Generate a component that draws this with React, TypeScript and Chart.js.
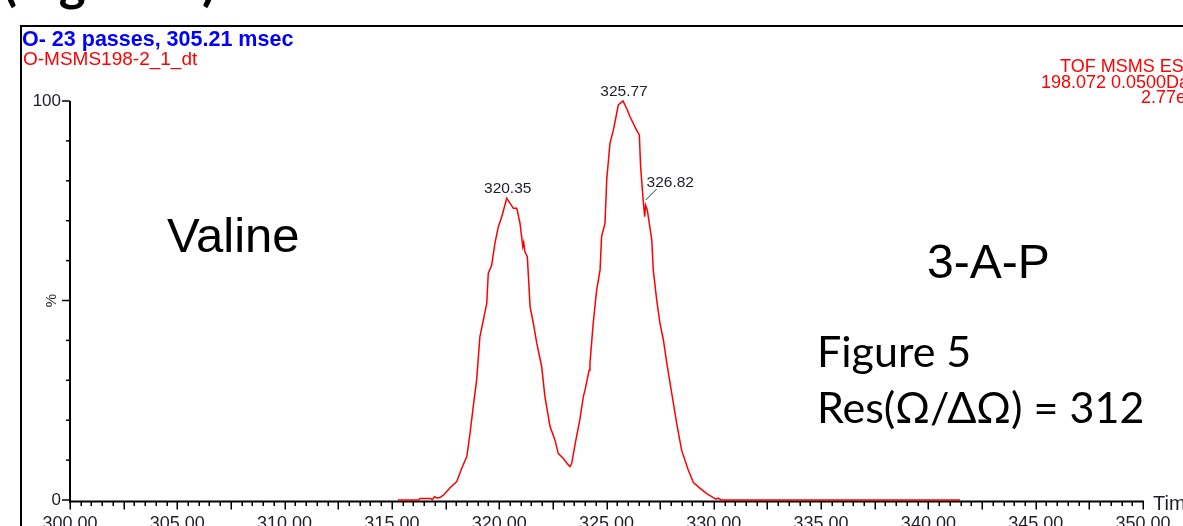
import React, { useEffect, useRef } from "react";
import { Chart, registerables } from "chart.js";

Chart.register(...registerables);

// ---- data ----
const driftTimes = [
  315.28, 316.25, 316.31, 316.8, 316.88, 316.98, 317.1, 317.24, 317.4, 317.7,
  318.02, 318.25, 318.49, 318.64, 318.79, 318.95, 319.1, 319.26, 319.42, 319.49,
  319.65, 319.8, 319.96, 320.12, 320.35, 320.5, 320.66, 320.82, 320.97, 321.1,
  321.14, 321.2, 321.31, 321.44, 321.59, 321.75, 321.98, 322.13, 322.37, 322.6,
  322.75, 322.99, 323.22, 323.3, 323.38, 323.53, 323.77, 323.92, 324.0, 324.19,
  324.23, 324.38, 324.54, 324.7, 324.77, 324.93, 325.01, 325.16, 325.32, 325.55,
  325.77, 325.95, 326.09, 326.4, 326.53, 326.59, 326.72, 326.78, 326.82, 326.9,
  327.11, 327.18, 327.34, 327.49, 327.65, 327.81, 328.04, 328.27, 328.5, 328.81,
  329.05, 329.36, 329.67, 329.98, 330.1, 330.2, 330.35, 341.47,
];
const intensities = [
  0, 0, 0.4, 0.4, 0.1, 0.8, 0.5, 0.6, 1.2, 3.0,
  4.6, 7.9, 10.9, 16.7, 23.4, 30.1, 40.9, 45.1, 49.3, 56.8,
  58.9, 64.3, 68.5, 71.0, 75.6, 74.4, 73.1, 73.1, 69.3, 63.5,
  64.5, 62.2, 61.0, 48.4, 44.3, 39.3, 33.4, 25.9, 18.4, 15.0,
  11.7, 10.4, 8.8, 8.4, 9.2, 13.8, 20.5, 25.9, 27.6, 32.5,
  34.3, 44.3, 52.6, 57.6, 66.0, 69.3, 80.2, 89.4, 92.7, 99.0,
  100, 98.0, 96.1, 92.7, 91.5, 83.5, 74.4, 71.0, 73.9, 72.7,
  65.2, 57.6, 50.1, 44.3, 40.1, 34.3, 26.7, 19.2, 12.5, 7.5,
  4.4, 2.9, 1.6, 0.6, 0.2, 0.5, 0.0, 0,
];

const peakTimes = [320.35, 325.77, 326.82];
const peakHeights = [75.6, 100, 73.9];
const peakLabels = ["320.35", "325.77", "326.82"];

const xTickValues = [300, 305, 310, 315, 320, 325, 330, 335, 340, 345, 350];
const xMinorStep = 0.5;
const yTickValues = [0, 10, 20, 30, 40, 50, 60, 70, 80, 90, 100];
const yLabelValues = [0, 100];

const headerTitle = "O- 23 passes, 305.21 msec";
const headerFile = "O-MSMS198-2_1_dt";
const headerRight = ["TOF MSMS ES+", "198.072 0.0500Da", "2.77e3"];
const xAxisName = "Time";
const pageHeading = "(Figure 5)";
const noteLeft = "Valine";
const noteRight = "3-A-P";
const noteFigure = "Figure 5";
const noteRes = "Res(Ω/ΔΩ) = 312";

const SANS = "'Liberation Sans', Arial, sans-serif";

const decorPlugin = {
  id: "decor",
  beforeDatasetsDraw(chart: any) {
    const ctx = chart.ctx as CanvasRenderingContext2D;
    const xs = chart.scales.x;
    const ys = chart.scales.y;
    ctx.save();

    // page heading, mostly cut off at the top
    ctx.fillStyle = "#000";
    ctx.font = `bold 51px Lato, ${SANS}`;
    ctx.textBaseline = "alphabetic";
    ctx.textAlign = "left";
    ctx.fillText(pageHeading, 3, 0);

    // frame
    ctx.strokeStyle = "#000";
    ctx.lineWidth = 2;
    ctx.strokeRect(21, 26, 1400, 700);

    // header texts
    ctx.fillStyle = "#0000ff";
    ctx.font = `bold 21.5px ${SANS}`;
    ctx.fillText(headerTitle, 22, 46);
    ctx.fillStyle = "#ff0000";
    ctx.font = `19px ${SANS}`;
    ctx.fillText(headerFile, 23, 65);
    ctx.font = `18px ${SANS}`;
    ctx.fillText(headerRight[0], 1060, 72);
    ctx.fillText(headerRight[1], 1041, 88);
    ctx.fillText(headerRight[2], 1141, 103);

    const x0 = xs.getPixelForValue(xs.min);
    const x1 = xs.getPixelForValue(xs.max);
    const yBase = ys.getPixelForValue(0);
    const yTop = ys.getPixelForValue(100);

    // y axis
    ctx.strokeStyle = "#000";
    ctx.lineWidth = 2;
    ctx.beginPath();
    ctx.moveTo(x0, yTop);
    ctx.lineTo(x0, yBase + 2.5);
    ctx.stroke();
    ctx.lineWidth = 1.5;
    for (const v of yTickValues) {
      const py = ys.getPixelForValue(v);
      const len = v === 0 || v === 50 || v === 100 ? 8 : 4;
      ctx.beginPath();
      ctx.moveTo(x0 - len, py);
      ctx.lineTo(x0, py);
      ctx.stroke();
    }
    ctx.fillStyle = "#1e1e2a";
    ctx.font = `17px ${SANS}`;
    ctx.textAlign = "right";
    ctx.textBaseline = "middle";
    for (const v of yLabelValues) {
      ctx.fillText(String(v), x0 - 9, ys.getPixelForValue(v));
    }
    ctx.save();
    ctx.translate(x0 - 14, ys.getPixelForValue(50));
    ctx.rotate(-Math.PI / 2);
    ctx.textAlign = "center";
    ctx.textBaseline = "alphabetic";
    ctx.font = `15px ${SANS}`;
    ctx.fillText("%", 0, 0);
    ctx.restore();

    // x axis
    const axisY = yBase + 1.5;
    ctx.lineWidth = 2;
    ctx.beginPath();
    ctx.moveTo(x0 - 1, axisY);
    ctx.lineTo(x1 + 1, axisY);
    ctx.stroke();
    ctx.lineWidth = 1.5;
    const nMinor = Math.round((xs.max - xs.min) / xMinorStep);
    for (let i = 0; i <= nMinor; i++) {
      const v = xs.min + i * xMinorStep;
      const px = Math.round(xs.getPixelForValue(v)) + 0.25;
      const len = i % 5 === 0 ? 8 : 4.5;
      ctx.beginPath();
      ctx.moveTo(px, axisY);
      ctx.lineTo(px, axisY + len);
      ctx.stroke();
    }
    ctx.font = `18px ${SANS}`;
    ctx.textAlign = "center";
    ctx.textBaseline = "alphabetic";
    for (const v of xTickValues) {
      ctx.fillText(v.toFixed(2), xs.getPixelForValue(v), 529);
    }
    ctx.textAlign = "left";
    ctx.font = `20px ${SANS}`;
    ctx.fillText(xAxisName, 1153, 510);

    // annotations
    ctx.fillStyle = "#000";
    ctx.font = `49px ${SANS}`;
    ctx.fillText(noteLeft, 167, 252);
    ctx.font = `48px ${SANS}`;
    ctx.fillText(noteRight, 927, 278);
    ctx.font = `43px Lato, 'Open Sans', sans-serif`;
    ctx.fillText(noteFigure, 817, 367);
    ctx.fillText(noteRes, 817, 423);

    ctx.restore();
  },
  afterDatasetsDraw(chart: any) {
    const ctx = chart.ctx as CanvasRenderingContext2D;
    const xs = chart.scales.x;
    const ys = chart.scales.y;
    ctx.save();
    ctx.fillStyle = "#1e1e2a";
    ctx.font = `15.5px ${SANS}`;
    ctx.textBaseline = "alphabetic";
    for (let i = 0; i < peakTimes.length; i++) {
      const px = xs.getPixelForValue(peakTimes[i]);
      const py = ys.getPixelForValue(peakHeights[i]);
      if (i === 2) {
        ctx.strokeStyle = "#333";
        ctx.lineWidth = 1;
        ctx.beginPath();
        ctx.moveTo(px, py - 5);
        ctx.lineTo(px + 11, py - 16);
        ctx.stroke();
        ctx.textAlign = "left";
        ctx.fillText(peakLabels[i], px + 1, py - 18);
      } else {
        ctx.textAlign = "center";
        ctx.fillText(peakLabels[i], px + 1, py - 5);
      }
    }
    ctx.restore();
  },
};

export default function App() {
  const canvasRef = useRef<HTMLCanvasElement | null>(null);

  useEffect(() => {
    const canvas = canvasRef.current;
    if (!canvas) return;
    const chart = new Chart(canvas, {
      type: "line",
      data: {
        datasets: [
          {
            label: "dt",
            data: driftTimes.map((t, i) => ({ x: t, y: intensities[i] })),
            borderColor: "#ff0000",
            borderWidth: 1.5,
            pointRadius: 0,
            tension: 0,
            fill: false,
            clip: false as any,
          },
        ],
      },
      options: {
        animation: false,
        responsive: false,
        devicePixelRatio: 1,
        layout: { padding: { left: 70, right: 40, top: 101, bottom: 26 } },
        plugins: {
          legend: { display: false },
          title: { display: false },
          tooltip: { enabled: false },
        },
        scales: {
          x: { type: "linear", min: 300, max: 350, display: false },
          y: { type: "linear", min: 0, max: 100, display: false },
        },
      },
      plugins: [decorPlugin],
    });
    return () => chart.destroy();
  }, []);

  return (
    <div
      style={{
        position: "absolute",
        left: 0,
        top: 0,
        width: 1183,
        height: 526,
        overflow: "hidden",
        background: "#fff",
      }}
    >
      <canvas ref={canvasRef} width={1183} height={526} style={{ display: "block" }} />
    </div>
  );
}
